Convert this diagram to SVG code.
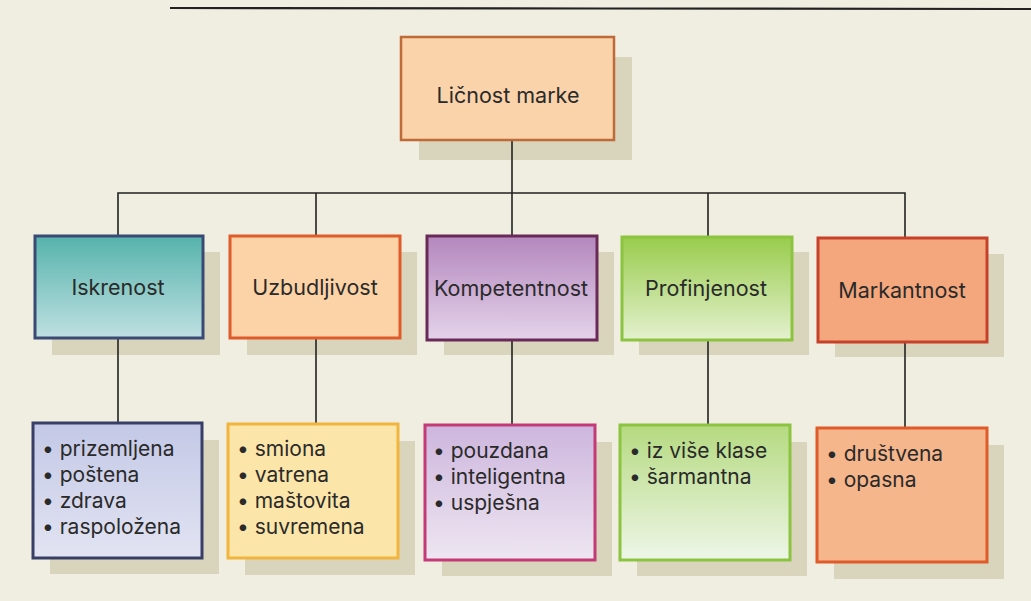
<svg xmlns="http://www.w3.org/2000/svg" width="1031" height="601" viewBox="0 0 1031 601">
<defs>
<style>
.t{font-family:Inter,"Open Sans","DejaVu Sans",sans-serif;fill:#2a2a2a}
.h{font-size:21.5px;text-anchor:middle}
.l{font-size:21px}
.sh{fill:#d9d5bd}
.c{stroke:#222;stroke-width:1.6;fill:none}
</style>
<linearGradient id="gTeal" x1="0" y1="0" x2="0" y2="1"><stop offset="0" stop-color="#56b3ac"/><stop offset="1" stop-color="#bfe0e2"/></linearGradient>
<linearGradient id="gPurple" x1="0" y1="0" x2="0" y2="1"><stop offset="0" stop-color="#b487bd"/><stop offset="1" stop-color="#e4d3ea"/></linearGradient>
<linearGradient id="gGreen" x1="0" y1="0" x2="0" y2="1"><stop offset="0" stop-color="#98cc4c"/><stop offset="1" stop-color="#e4f1cf"/></linearGradient>
<linearGradient id="gBlueL" x1="0" y1="0" x2="0" y2="1"><stop offset="0" stop-color="#c3c8e6"/><stop offset="1" stop-color="#e2e4f2"/></linearGradient>
<linearGradient id="gPurpleL" x1="0" y1="0" x2="0" y2="1"><stop offset="0" stop-color="#cdb6de"/><stop offset="1" stop-color="#eee6f1"/></linearGradient>
<linearGradient id="gGreenL" x1="0" y1="0" x2="0" y2="1"><stop offset="0" stop-color="#b5da80"/><stop offset="1" stop-color="#eef6e8"/></linearGradient>
</defs>
<rect width="1031" height="601" fill="#efeee1"/>
<path d="M170 8 L600 8.5 L1031 9" stroke="#222" stroke-width="2.2"/>
<g id="shadows">
<rect class="sh" x="419" y="57" width="213" height="103"/>
<rect class="sh" x="52" y="252" width="168" height="103"/>
<rect class="sh" x="247" y="252" width="170" height="103"/>
<rect class="sh" x="444" y="252" width="170" height="103"/>
<rect class="sh" x="639" y="252" width="170" height="103"/>
<rect class="sh" x="835" y="254" width="169" height="103"/>
<rect class="sh" x="50" y="440" width="169" height="134"/>
<rect class="sh" x="245" y="441" width="170" height="134"/>
<rect class="sh" x="442" y="442" width="170" height="134"/>
<rect class="sh" x="637" y="442" width="170" height="134"/>
<rect class="sh" x="834" y="445" width="170" height="134"/>
</g>
<g id="connectors">
<path class="c" d="M512 140 V193 M118 236 V193 H905 V238 M316 193 V236 M512 193 V236 M708 193 V237"/>
<path class="c" d="M118 338 V423 M316 338 V424 M512 340 V425 M708 340 V425 M905 342 V428"/>
</g>
<g id="root">
<rect x="401" y="37" width="213" height="103" fill="#fad3aa" stroke="#c06a38" stroke-width="2.5"/>
<text class="t h" x="508" y="103">Ličnost marke</text>
</g>
<g id="iskrenost">
<rect x="35" y="236" width="168" height="102" fill="url(#gTeal)" stroke="#3b4a74" stroke-width="3"/>
<text class="t h" x="118" y="295">Iskrenost</text>
</g>
<g id="uzbudljivost">
<rect x="230" y="236" width="170" height="102" fill="#fcd3a6" stroke="#df5b2a" stroke-width="3"/>
<text class="t h" x="315" y="295">Uzbudljivost</text>
</g>
<g id="kompetentnost">
<rect x="427" y="236" width="170" height="104" fill="url(#gPurple)" stroke="#6a2a58" stroke-width="3"/>
<text class="t h" x="511" y="296">Kompetentnost</text>
</g>
<g id="profinjenost">
<rect x="622" y="237" width="170" height="103" fill="url(#gGreen)" stroke="#8cc441" stroke-width="3"/>
<text class="t h" x="706" y="296">Profinjenost</text>
</g>
<g id="markantnost">
<rect x="818" y="238" width="169" height="104" fill="#f4a77c" stroke="#c7412a" stroke-width="3"/>
<text class="t h" x="902" y="298">Markantnost</text>
</g>
<g id="iskrenost-list">
<rect x="33" y="423" width="169" height="135" fill="url(#gBlueL)" stroke="#373f66" stroke-width="3"/>
<text class="t l"><tspan x="42" y="456">• prizemljena</tspan><tspan x="42" y="482">• poštena</tspan><tspan x="42" y="508">• zdrava</tspan><tspan x="42" y="534">• raspoložena</tspan></text>
</g>
<g id="uzbudljivost-list">
<rect x="228" y="424" width="170" height="134" fill="#fce5a8" stroke="#f2b43c" stroke-width="3"/>
<text class="t l"><tspan x="237" y="456">• smiona</tspan><tspan x="237" y="482">• vatrena</tspan><tspan x="237" y="508">• maštovita</tspan><tspan x="237" y="534">• suvremena</tspan></text>
</g>
<g id="kompetentnost-list">
<rect x="425" y="425" width="170" height="135" fill="url(#gPurpleL)" stroke="#c33a76" stroke-width="3"/>
<text class="t l"><tspan x="433" y="458">• pouzdana</tspan><tspan x="433" y="484">• inteligentna</tspan><tspan x="433" y="510">• uspješna</tspan></text>
</g>
<g id="profinjenost-list">
<rect x="620" y="425" width="170" height="135" fill="url(#gGreenL)" stroke="#8cc441" stroke-width="3"/>
<text class="t l"><tspan x="629" y="458">• iz više klase</tspan><tspan x="629" y="484">• šarmantna</tspan></text>
</g>
<g id="markantnost-list">
<rect x="817" y="428" width="170" height="134" fill="#f6b68c" stroke="#df5b2a" stroke-width="3"/>
<text class="t l"><tspan x="826" y="461">• društvena</tspan><tspan x="826" y="487">• opasna</tspan></text>
</g>
</svg>
